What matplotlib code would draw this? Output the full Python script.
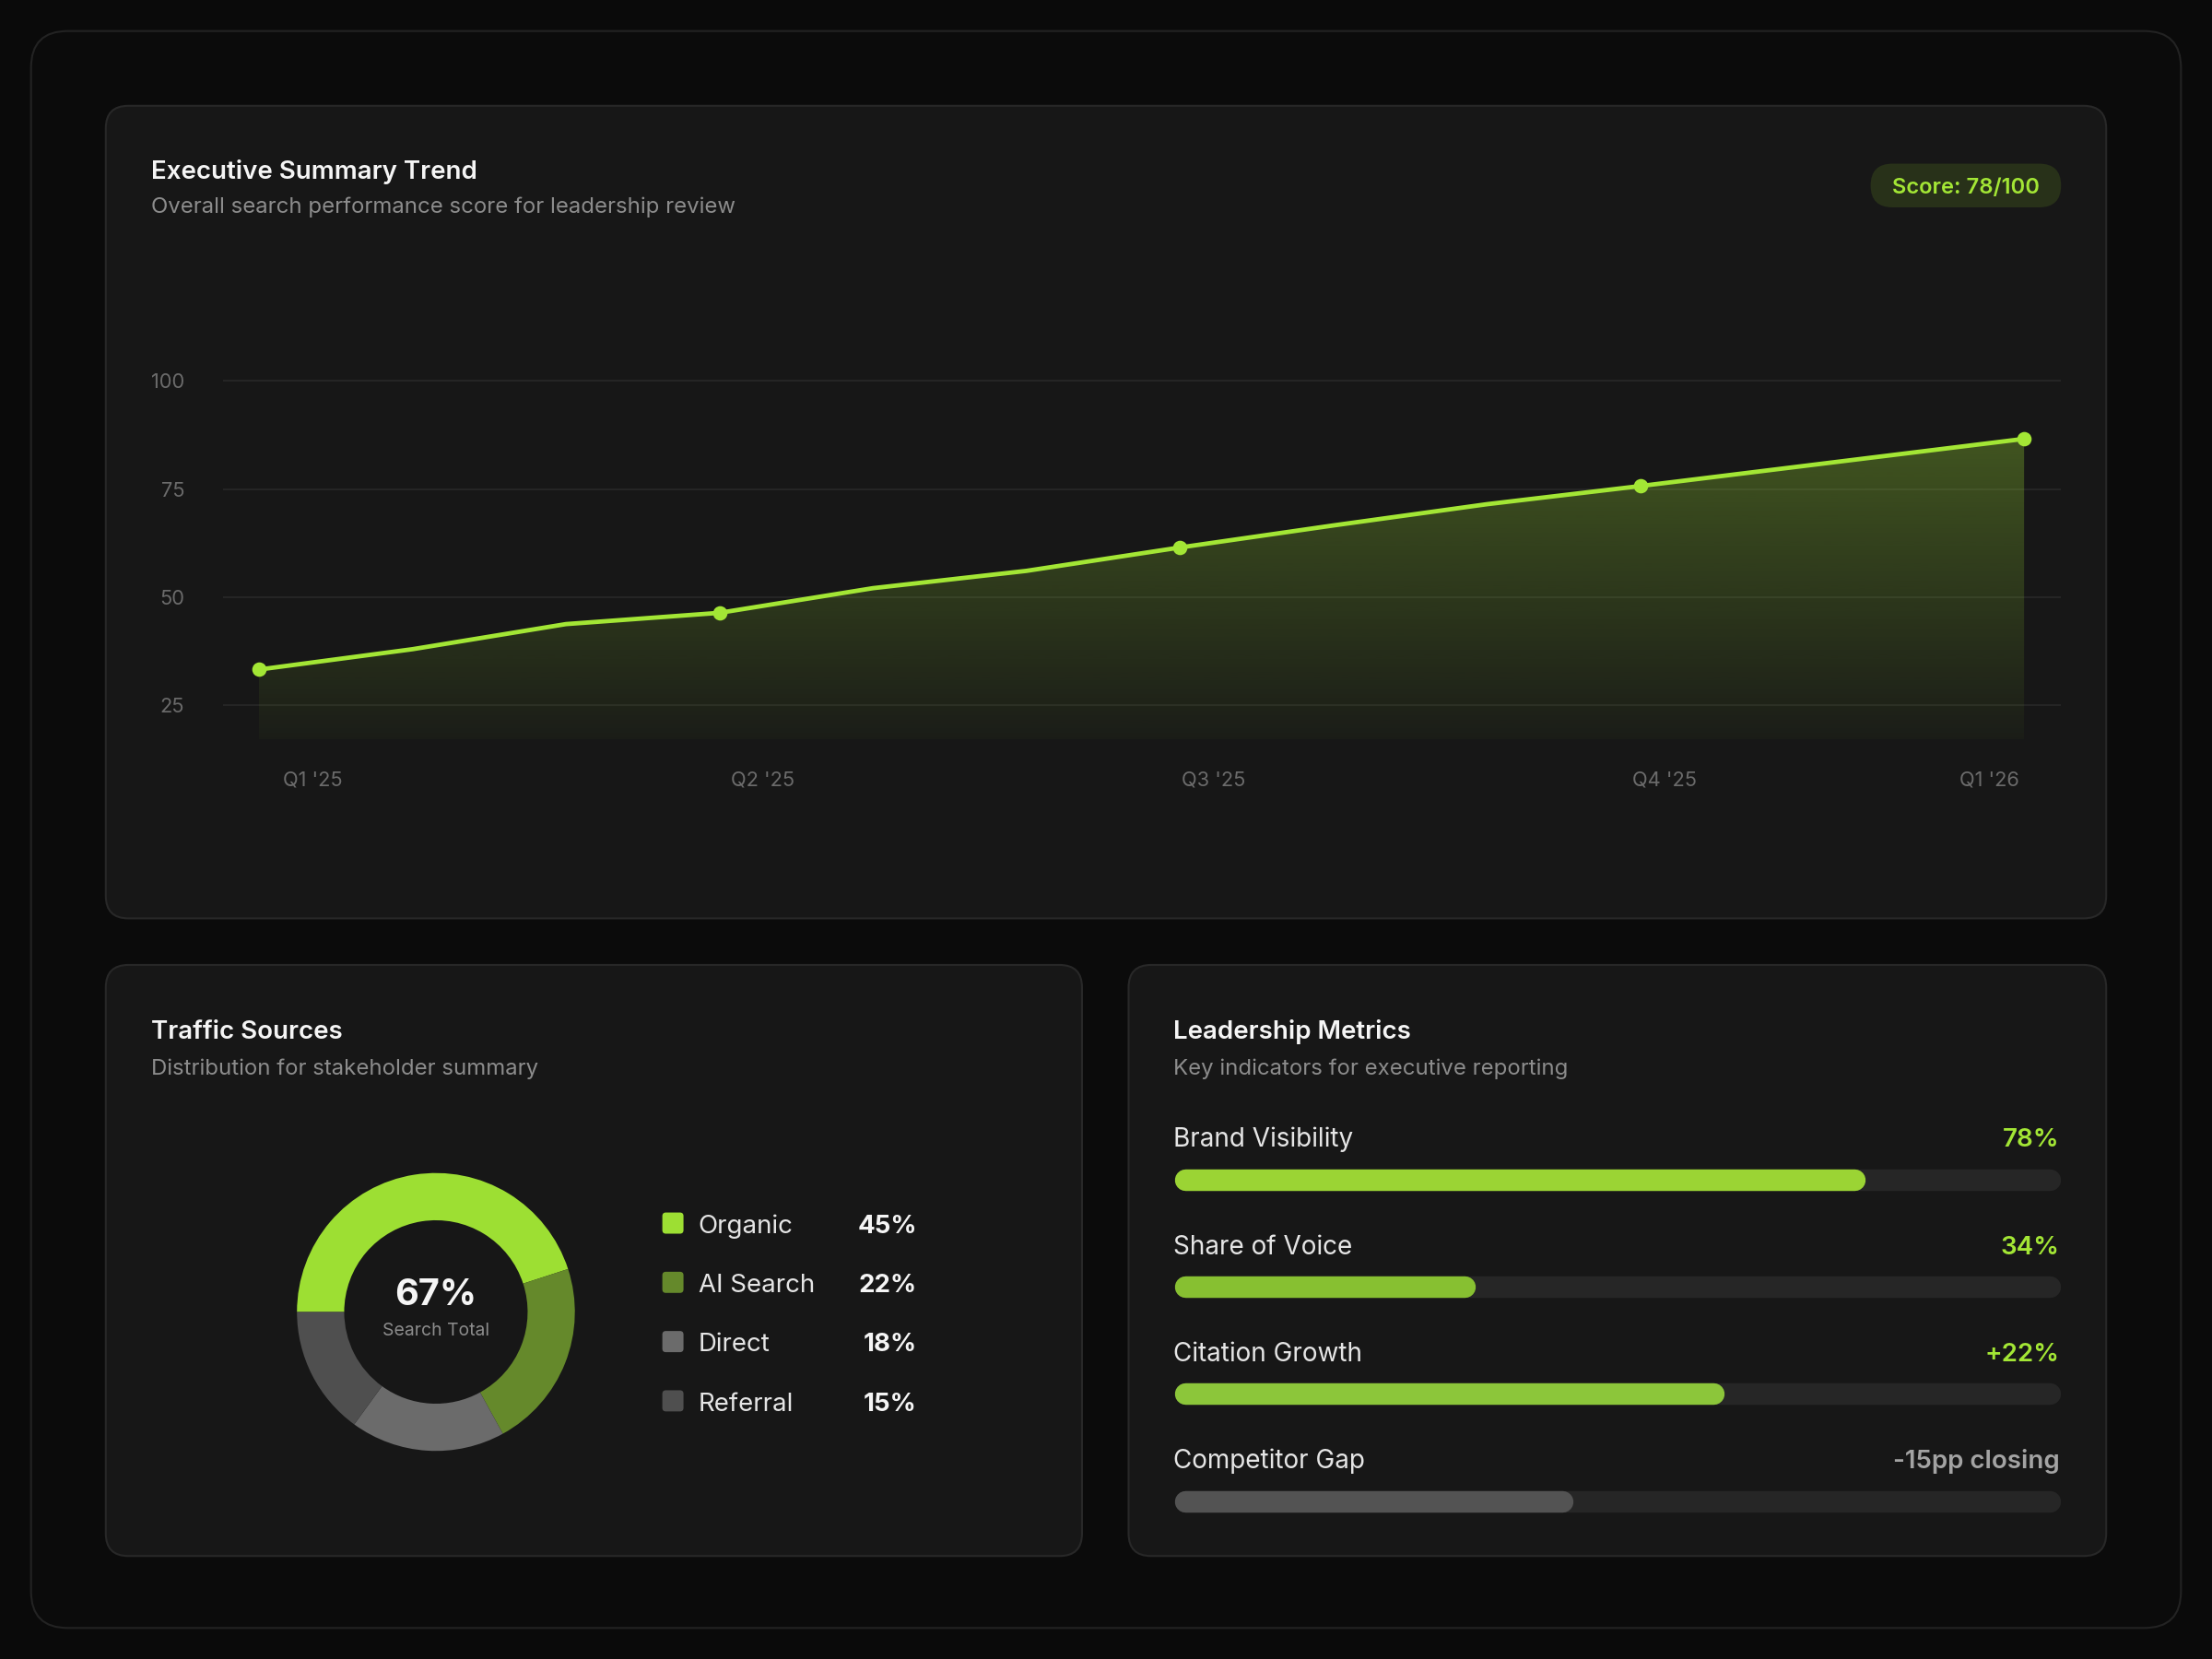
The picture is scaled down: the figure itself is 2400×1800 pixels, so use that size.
import numpy as np
import matplotlib
matplotlib.use("Agg")
import matplotlib.pyplot as plt
from matplotlib.patches import FancyBboxPatch

plt.rcParams['font.family'] = ['Inter', 'DejaVu Sans']

# ---- data ----
trend_month = [0, 1, 2, 3, 4, 5, 6, 7, 8, 9, 11.5]
trend_score = [33.3, 38.0, 43.8, 46.4, 52.1, 56.1, 61.5, 66.6, 71.5, 75.7, 86.6]
trend_marked = [0, 3, 6, 9, 10]
quarter_labels = ["Q1 '25", "Q2 '25", "Q3 '25", "Q4 '25", "Q1 '26"]
y_ticks = [25, 50, 75, 100]

source_names = ["Organic", "AI Search", "Direct", "Referral"]
source_share = [45, 22, 18, 15]
search_total = "67%"

metric_names = ["Brand Visibility", "Share of Voice", "Citation Growth", "Competitor Gap"]
metric_fill = [78, 34, 62, 45]
metric_text = ["78%", "34%", "+22%", "-15pp closing"]

# ---- style ----
LIME = '#a3e635'
PAGE = '#0a0a0a'
CARD = '#171717'
EDGE = '#282828'
WHITE = '#f5f5f5'
MUTED = '#8c8c8c'
DIM = '#6b6b6b'
source_colors = ['#9ddf33', '#65892b', '#6b6b6b', '#4f4f4f']
metric_colors = ['#9bd434', '#87c031', '#8cc63a', '#535353']
metric_value_colors = [LIME, LIME, LIME, '#a3a3a3']

W, H = 1568, 1176  # layout units
fig = plt.figure(figsize=(16, 12), dpi=150, facecolor=PAGE)
bg = fig.add_axes([0, 0, 1, 1])
bg.set_xlim(0, W)
bg.set_ylim(H, 0)
bg.axis('off')


def rect(x0, y0, x1, y1):
    return [x0 / W, 1 - y1 / H, (x1 - x0) / W, (y1 - y0) / H]


def card(x0, y0, x1, y1, r, fc, ec):
    bg.add_patch(FancyBboxPatch((x0, y0), x1 - x0, y1 - y0,
                                boxstyle=f"round,pad=0,rounding_size={r}",
                                fc=fc, ec=ec, lw=1.0))


card(22, 22, 1546, 1154, 26, '#0b0b0b', '#232323')
card(75, 75, 1493, 651, 16, CARD, EDGE)
card(75, 684, 767, 1103, 16, CARD, EDGE)
card(800, 684, 1493, 1103, 16, CARD, EDGE)

# ---- top card text ----
bg.text(107, 127, "Executive Summary Trend", color=WHITE, fontsize=13.3,
        fontweight='semibold', va='baseline')
bg.text(107, 151, "Overall search performance score for leadership review",
        color=MUTED, fontsize=11.5, va='baseline')
bg.add_patch(FancyBboxPatch((1326, 116), 135, 31,
                            boxstyle="round,pad=0,rounding_size=15.5",
                            fc='#283119', ec='none'))
bg.text(1393.5, 137, "Score: 78/100", color=LIME, fontsize=11.4,
        fontweight='semibold', ha='center', va='baseline')

# ---- trend chart ----
ax = fig.add_axes(rect(158, 262, 1461, 524))
ax.set_facecolor('none')
ymin, ymax = 17.2, 102.6
step = 108.8
xlim = ((158 - 183.6) / step, (1461 - 183.6) / step)
for s in ax.spines.values():
    s.set_visible(False)
ax.set_xticks([])
ax.set_yticks(y_ticks)
ax.set_yticklabels([str(v) for v in y_ticks], color=DIM, fontsize=10.5)
ax.tick_params(axis='y', length=0, pad=20)
ax.grid(axis='y', color='#262626', lw=0.9)
ax.set_axisbelow(True)

area = ax.fill_between(trend_month, trend_score, ymin, fc='none', ec='none')
grad = np.zeros((256, 1, 4))
grad[:, 0, :3] = matplotlib.colors.to_rgb(LIME)
grad[:, 0, 3] = np.linspace(0.30, 0.03, 256)
img = ax.imshow(grad, extent=(trend_month[0], trend_month[-1], ymin, max(trend_score)),
                aspect='auto', origin='upper', zorder=2, interpolation='bilinear')
img.set_clip_path(area.get_paths()[0], transform=ax.transData)
ax.set_xlim(*xlim)
ax.set_ylim(ymin, ymax)

ax.plot(trend_month, trend_score, color=LIME, lw=2.3, zorder=3,
        marker='o', markevery=trend_marked, ms=6.5, mec=LIME, mfc=LIME,
        solid_joinstyle='round')

label_centers = [222, 541, 860, 1180, 1410]
for xc, lab in zip(label_centers, quarter_labels):
    bg.text(xc, 557, lab, color=DIM, fontsize=10.5, ha='center', va='baseline')

# ---- traffic sources ----
bg.text(107, 736, "Traffic Sources", color=WHITE, fontsize=13.3,
        fontweight='semibold', va='baseline')
bg.text(107, 762, "Distribution for stakeholder summary", color=MUTED,
        fontsize=11.5, va='baseline')

dax = fig.add_axes(rect(309 - 98.5, 930 - 98.5, 309 + 98.5, 930 + 98.5))
dax.pie(source_share, colors=source_colors, startangle=180, counterclock=False,
        radius=1, wedgeprops=dict(width=0.34, edgecolor='none', linewidth=0))
dax.set_xlim(-1, 1)
dax.set_ylim(-1, 1)
dax.set_aspect('equal')
dax.axis('off')
bg.text(309, 925, search_total, color=WHITE, fontsize=19, fontweight='bold',
        ha='center', va='baseline')
bg.text(309, 947, "Search Total", color=MUTED, fontsize=9.3,
        ha='center', va='baseline')

for i, (name, share, col) in enumerate(zip(source_names, source_share, source_colors)):
    yc = 867 + 42 * i
    bg.add_patch(FancyBboxPatch((469.5, yc - 7.5), 15, 15,
                                boxstyle="round,pad=0,rounding_size=2.5",
                                fc=col, ec='none'))
    bg.text(495, yc + 7, name, color='#e5e5e5', fontsize=13.3, va='baseline')
    bg.text(650, yc + 7, f"{share}%", color=WHITE, fontsize=13.3,
            fontweight='bold', ha='right', va='baseline')

# ---- leadership metrics ----
bg.text(832, 736, "Leadership Metrics", color=WHITE, fontsize=13.3,
        fontweight='semibold', va='baseline')
bg.text(832, 762, "Key indicators for executive reporting", color=MUTED,
        fontsize=11.5, va='baseline')

max_ = fig.add_axes(rect(832.3, 798, 1460.7, 1102))
max_.set_xlim(0, 100)
max_.set_ylim(3.5, -0.5)
max_.axis('off')
bar_lw = 15.3 * (16 * 72 / W)  # layout px -> points
cap = (bar_lw / 72 * fig.dpi / 2) / (628.4 / W * fig.get_figwidth() * fig.dpi) * 100
for i, (name, val, txt, col, tcol) in enumerate(zip(metric_names, metric_fill, metric_text,
                                                    metric_colors, metric_value_colors)):
    max_.plot([cap, 100 - cap], [i, i], color='#262626', lw=bar_lw, solid_capstyle='round')
    max_.plot([cap, val - cap], [i, i], color=col, lw=bar_lw, solid_capstyle='round')
    yb = 813 + 76 * i
    bg.text(832, yb, name, color='#e5e5e5', fontsize=13.4, va='baseline')
    bg.text(1460, yb, txt, color=tcol, fontsize=13.3, fontweight='semibold',
            ha='right', va='baseline')

fig.savefig("out.png", dpi=150, facecolor=PAGE)
